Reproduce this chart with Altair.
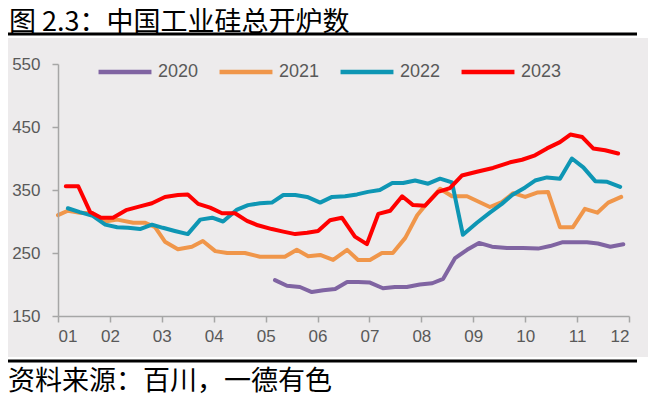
import altair as alt
import pandas as pd

years = ["2020", "2021", "2022", "2023"]
colors = ["#8064A2", "#F0964A", "#0E96B4", "#FF0000"]

# month position (1 = 01 ... 12 = 12) and value for each series
m2020 = [5.18, 5.41, 5.66, 5.89, 6.11, 6.34, 6.57, 6.78, 7.01, 7.26, 7.49, 7.72, 7.97, 8.21,
         8.42, 8.65, 8.88, 9.11, 9.36, 9.65, 9.96, 10.25, 10.48, 10.71, 11.00, 11.19, 11.40, 11.64, 11.89]
v2020 = [207, 198, 196, 188, 191, 193, 204, 204, 203, 194, 196, 196, 200, 202,
         209, 242, 255, 266, 260, 258, 258, 257, 261, 267, 267, 267, 265, 260, 264]

m2021 = [1.00, 1.19, 1.42, 1.67, 1.91, 2.14, 2.45, 2.68, 2.87, 3.06, 3.31, 3.58, 3.79, 4.03,
         4.26, 4.60, 4.89, 5.14, 5.37, 5.60, 5.82, 6.05, 6.30, 6.57, 6.78, 7.01, 7.24, 7.45,
         7.69, 7.92, 8.07, 8.36, 8.59, 8.88, 9.32, 9.55, 9.77, 10.00, 10.23, 10.44, 10.67,
         10.92, 11.15, 11.39, 11.60, 11.85]
v2021 = [310, 317, 314, 313, 300, 303, 298, 298, 291, 268, 256, 260, 269, 253,
         250, 250, 244, 244, 244, 255, 245, 247, 239, 255, 239, 239, 250, 250,
         274, 310, 325, 352, 340, 340, 323, 331, 345, 339, 346, 347, 291,
         291, 320, 314, 330, 339]

m2022 = [1.19, 1.42, 1.67, 1.91, 2.14, 2.35, 2.58, 2.81, 3.02, 3.25, 3.50, 3.74, 3.97, 4.18,
         4.45, 4.66, 4.89, 5.12, 5.34, 5.57, 5.80, 6.05, 6.28, 6.53, 6.76, 6.97, 7.20, 7.44,
         7.65, 7.88, 8.13, 8.36, 8.59, 8.80, 9.07, 9.32, 9.55, 9.75, 10.00, 10.19, 10.42,
         10.67, 10.90, 11.12, 11.35, 11.58, 11.83]
v2022 = [321, 315, 309, 295, 291, 290, 288, 295, 290, 285, 280, 303, 306, 300,
         319, 326, 329, 330, 342, 342, 339, 330, 339, 340, 343, 347, 350, 361,
         361, 365, 360, 368, 362, 279, 298, 314, 328, 342, 354, 365, 370,
         368, 400, 386, 364, 363, 355]

m2023 = [1.15, 1.39, 1.62, 1.83, 2.06, 2.31, 2.58, 2.81, 3.06, 3.31, 3.50, 3.70, 3.93, 4.16,
         4.41, 4.64, 4.85, 5.12, 5.34, 5.57, 5.80, 6.01, 6.24, 6.47, 6.72, 6.95, 7.17, 7.40,
         7.63, 7.84, 8.07, 8.32, 8.55, 8.78, 9.07, 9.38, 9.71, 9.94, 10.19, 10.42, 10.67,
         10.87, 11.10, 11.31, 11.54, 11.79]
v2023 = [356, 356, 315, 306, 306, 318, 324, 329, 339, 342, 343, 328, 322, 313,
         313, 301, 294, 288, 284, 280, 282, 285, 302, 306, 276, 264, 312, 317,
         340, 326, 325, 347, 353, 373, 379, 385, 394, 398, 405, 416, 426,
         438, 434, 416, 413, 408]

y_ticks = [150, 250, 350, 450, 550]
x_ticks = list(range(1, 13))

title_text = "图 2.3：中国工业硅总开炉数"
source_text = "资料来源：百川，一德有色"

rows = []
for yr, ms, vs in zip(years, [m2020, m2021, m2022, m2023], [v2020, v2021, v2022, v2023]):
    for i, (m, v) in enumerate(zip(ms, vs)):
        rows.append({"year": yr, "month": m, "value": v, "order": i})
df = pd.DataFrame(rows)

one = alt.Data(values=[{}])

panel = alt.Chart(one).mark_rect(color="#EDEBEC").encode(
    x=alt.value(-50), x2=alt.value(590), y=alt.value(-26), y2=alt.value(293)
)
rule_top = alt.Chart(one).mark_rule(color="black", strokeWidth=3).encode(
    x=alt.value(-53), x2=alt.value(579), y=alt.value(-30)
)
rule_bot = alt.Chart(one).mark_rule(color="black", strokeWidth=3).encode(
    x=alt.value(-53), x2=alt.value(579), y=alt.value(297)
)
title = alt.Chart(one).mark_text(
    text=title_text, align="left", baseline="middle", fontSize=27,
    font="Noto Sans CJK SC", color="black"
).encode(x=alt.value(-49), y=alt.value(-41))
source = alt.Chart(one).mark_text(
    text=source_text, align="left", baseline="middle", fontSize=27,
    font="Noto Sans CJK SC", color="black"
).encode(x=alt.value(-50), y=alt.value(318))

axis_common = dict(title=None, grid=False, tickSize=6, zindex=1,
                   domainColor="#A6A6A6", tickColor="#A6A6A6", domainWidth=1.5, tickWidth=1.5,
                   labelFontSize=17, labelFont="Liberation Sans", labelColor="#595959")

lines = alt.Chart(df).mark_line(strokeWidth=4, strokeJoin="round", strokeCap="round").encode(
    x=alt.X("month:Q", scale=alt.Scale(domain=[1, 12], nice=False, zero=False),
            axis=alt.Axis(values=x_ticks, labelExpr="(datum.value < 10 ? '0' : '') + datum.value",
                          labelPadding=6, **axis_common)),
    y=alt.Y("value:Q", scale=alt.Scale(domain=[150, 550], nice=False, zero=False),
            axis=alt.Axis(values=y_ticks, labelPadding=12, **axis_common)),
    color=alt.Color("year:N", scale=alt.Scale(domain=years, range=colors),
                    legend=alt.Legend(orient="none", legendX=38, legendY=-21, direction="horizontal",
                                      title=None, symbolType="stroke", symbolSize=2800,
                                      symbolStrokeWidth=4.5, labelFontSize=18,
                                      labelFont="Liberation Sans", labelColor="#595959",
                                      columnPadding=11, labelOffset=4)),
    order="order:Q",
)

chart = alt.layer(panel, rule_top, rule_bot, title, source, lines).properties(
    width=571, height=252,
    padding={"left": 50, "top": 56, "right": 19, "bottom": 80},
    autosize=alt.AutoSizeParams(type="none"),
    background="white",
).configure_view(stroke=None)

chart.save("out.html", embed_options={"renderer": "svg", "actions": False})
